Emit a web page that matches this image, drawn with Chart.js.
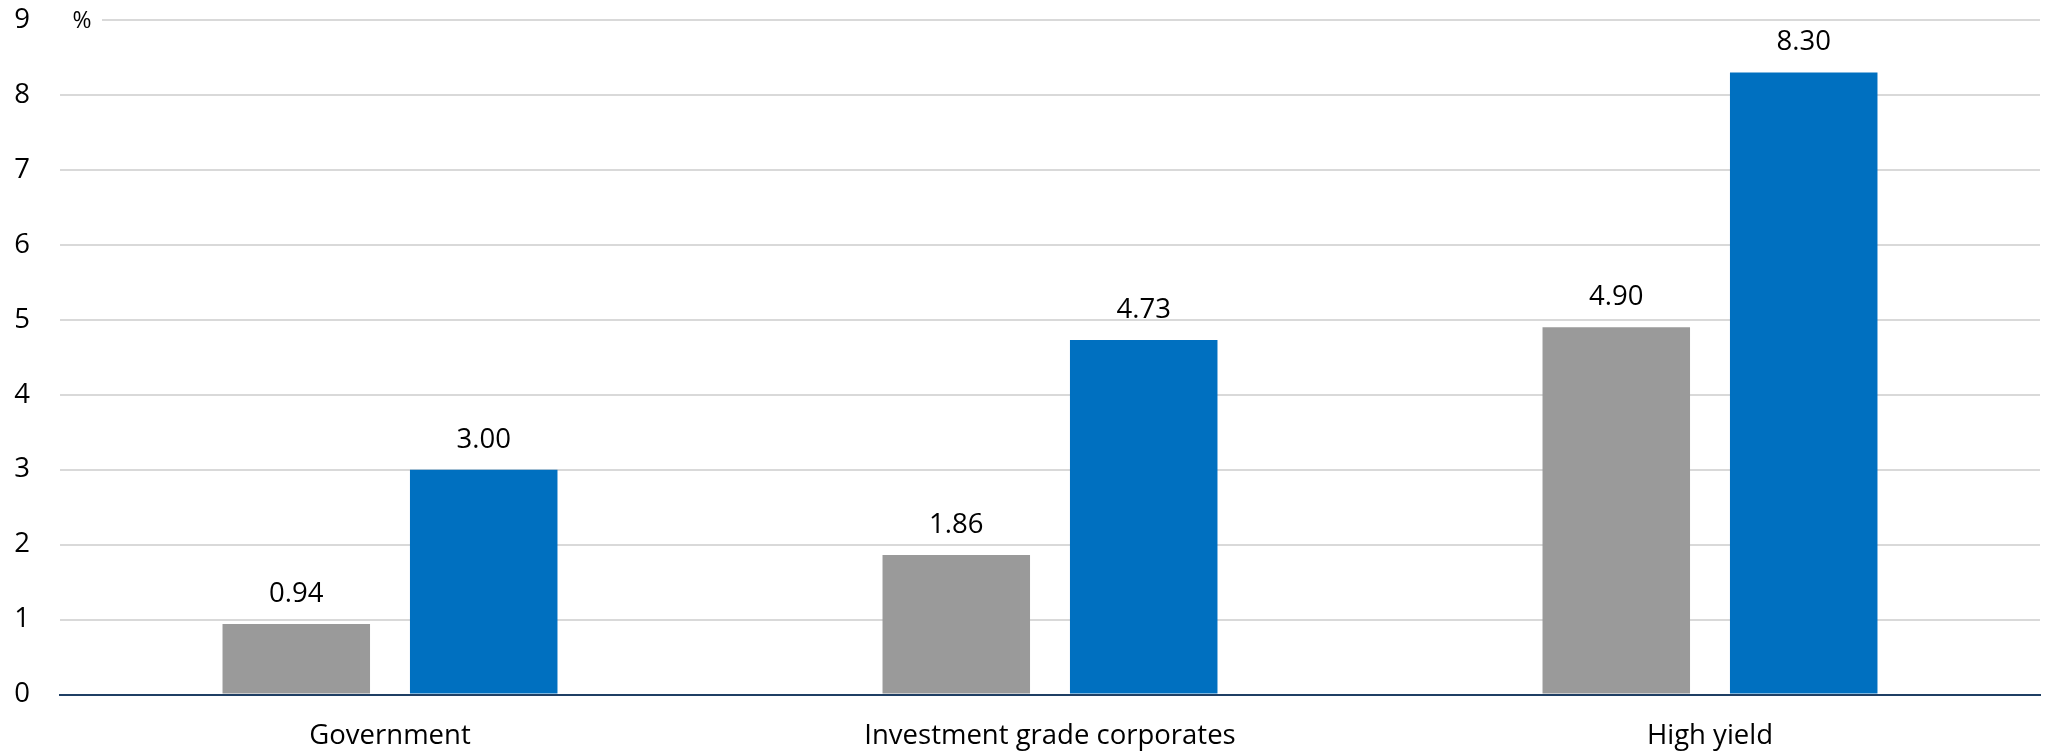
<!DOCTYPE html>
<html>
<head>
<meta charset="utf-8">
<script src="https://cdn.jsdelivr.net/npm/chart.js@4.4.1/dist/chart.umd.min.js"></script>
<style>
  html, body { margin: 0; padding: 0; background: #fff; }
  #wrap { width: 2047px; height: 754px; }
</style>
</head>
<body>
<div id="wrap"><canvas id="chart" width="2047" height="754"></canvas></div>
<script>
const categories = ['Government', 'Investment grade corporates', 'High yield'];
const greyValues = [0.94, 1.86, 4.90];
const blueValues = [3.00, 4.73, 8.30];
const yTicks = [0, 1, 2, 3, 4, 5, 6, 7, 8, 9];
const unitLabel = '%';

const FONT = "'Open Sans', 'Noto Sans', sans-serif";

const valueLabels = {
  id: 'valueLabels',
  afterDatasetsDraw(chart) {
    const ctx = chart.ctx;
    ctx.save();
    ctx.font = `27.5px ${FONT}`;
    ctx.fillStyle = '#000';
    ctx.textAlign = 'center';
    ctx.textBaseline = 'alphabetic';
    chart.data.datasets.forEach((ds, i) => {
      chart.getDatasetMeta(i).data.forEach((bar, j) => {
        ctx.fillText(ds.data[j].toFixed(2), bar.x, bar.y - 22);
      });
    });
    ctx.restore();
  },
  afterDraw(chart) {
    // unit label sits on top of the top gridline
    const ctx = chart.ctx;
    const area = chart.chartArea;
    const y = chart.scales.y.getPixelForValue(yTicks[yTicks.length - 1]);
    ctx.save();
    ctx.fillStyle = '#fff';
    ctx.fillRect(area.left, y - 8, 42, 16);
    ctx.font = `23px ${FONT}`;
    ctx.fillStyle = '#000';
    ctx.textAlign = 'center';
    ctx.textBaseline = 'middle';
    ctx.fillText(unitLabel, area.left + 22, y + 1);
    ctx.restore();
  }
};

new Chart(document.getElementById('chart'), {
  type: 'bar',
  data: {
    labels: categories,
    datasets: [{
      label: 'Series 1',
      data: greyValues,
      backgroundColor: '#9a9a9a',
      categoryPercentage: 0.568,
      barPercentage: 0.787
    }, {
      label: 'Series 2',
      data: blueValues,
      backgroundColor: '#0070c0',
      categoryPercentage: 0.568,
      barPercentage: 0.787
    }]
  },
  options: {
    responsive: false,
    animation: false,
    layout: { padding: { top: 20, right: 7, bottom: 0, left: 0 } },
    scales: {
      x: {
        grid: { display: false, drawTicks: false },
        border: { display: true, color: '#1f3f64', width: 2 },
        ticks: { color: '#000', font: { family: FONT, size: 27.5 }, padding: 25, maxRotation: 0 },
        afterFit: s => { s.height = 59.5; s.paddingLeft = 0; s.paddingRight = 0; }
      },
      y: {
        min: 0,
        max: yTicks[yTicks.length - 1],
        afterBuildTicks: s => { s.ticks = yTicks.map(v => ({ value: v })); },
        grid: { color: '#d9d9d9', lineWidth: 2, drawTicks: false },
        border: { display: false },
        ticks: { color: '#000', font: { family: FONT, size: 27.5 }, padding: 30 },
        afterFit: s => { s.width = 60; s.paddingTop = 0; s.paddingBottom = 0; }
      }
    },
    plugins: {
      legend: { display: false },
      tooltip: { enabled: false }
    }
  },
  plugins: [valueLabels]
});
</script>
</body>
</html>
